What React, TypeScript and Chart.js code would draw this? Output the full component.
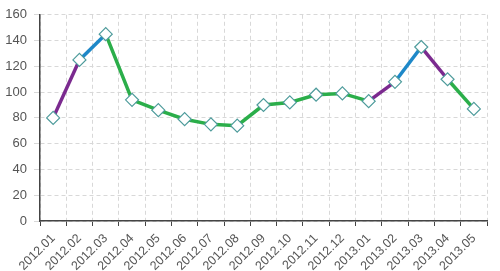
import React, { useEffect, useRef } from "react";
import { Chart, registerables } from "chart.js";

Chart.register(...registerables);

const categories = [
  "2012.01", "2012.02", "2012.03", "2012.04", "2012.05", "2012.06", "2012.07", "2012.08", "2012.09",
  "2012.10", "2012.11", "2012.12", "2013.01", "2013.02", "2013.03", "2013.04", "2013.05",
];
const values = [80, 125, 145, 94, 86, 79, 75, 74, 90, 92, 98, 99, 93, 108, 135, 110, 87];
// colour of the segment starting at each index
const PURPLE = "#7B2A8F";
const BLUE = "#1E88C8";
const GREEN = "#2BAE4A";
const segmentColors = [
  PURPLE, BLUE, GREEN, GREEN, GREEN, GREEN, GREEN, GREEN, GREEN, GREEN, GREEN,
  GREEN, PURPLE, BLUE, PURPLE, GREEN,
];
const yTicks = [0, 20, 40, 60, 80, 100, 120, 140, 160];

export default function App() {
  const ref = useRef<HTMLCanvasElement | null>(null);
  useEffect(() => {
    document.body.style.margin = "0";
    const ctx = ref.current!;
    const family = "'Liberation Sans', Arial, sans-serif";
    const chart = new Chart(ctx, {
      type: "line",
      data: {
        labels: categories,
        datasets: [
          {
            data: values,
            borderWidth: 3.5,
            borderColor: GREEN,
            segment: {
              borderColor: (c: any) => segmentColors[c.p0DataIndex],
            },
            pointStyle: "rectRot",
            pointRadius: 6.5,
            pointBackgroundColor: "#ffffff",
            pointBorderColor: "#4F9C9C",
            pointBorderWidth: 1.2,
            tension: 0,
          },
        ],
      },
      options: {
        animation: false,
        responsive: false,
        maintainAspectRatio: false,
        layout: { padding: { top: 12, right: 13, left: 0, bottom: 0 } },
        plugins: { legend: { display: false }, tooltip: { enabled: false } },
        scales: {
          x: {
            type: "category",
            offset: true,
            afterFit: (s: any) => {
              s.height = 50;
            },
            grid: {
              offset: true,
              color: "#d8d8d8",
              lineWidth: 1,
              tickLength: 5,
              tickColor: "#444",
              tickBorderDash: [],
            },
            border: { color: "#444", width: 1.5, dash: [4, 3] },
            ticks: {
              font: { family, size: 12.5 },
              color: "#555",
              minRotation: 45,
              maxRotation: 45,
              autoSkip: false,
              padding: 5,
            },
          },
          y: {
            min: 0,
            max: 160,
            afterFit: (s: any) => {
              s.width = 40;
            },
            afterBuildTicks: (s: any) => {
              s.ticks = yTicks.map((v) => ({ value: v }));
            },
            grid: {
              color: "#d8d8d8",
              lineWidth: 1,
              tickLength: 6,
              tickColor: "#d8d8d8",
            },
            border: { color: "#444", width: 1.5, dash: [4, 3] },
            ticks: { font: { family, size: 13 }, color: "#555", padding: 7 },
          },
        },
      },
    } as any);
    return () => chart.destroy();
  }, []);
  return <canvas ref={ref} width={500} height={271} style={{ display: "block" }} />;
}
